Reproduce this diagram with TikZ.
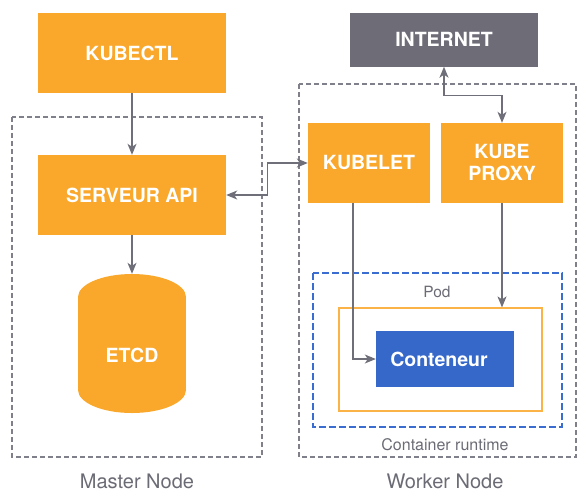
\documentclass[tikz,border=0pt]{standalone}
\usepackage{fontspec}
\setmainfont{TeX Gyre Heros}
\usetikzlibrary{arrows.meta}
\definecolor{kor}{HTML}{F9A82B}
\definecolor{kgray}{HTML}{6E6D77}
\definecolor{karrow}{HTML}{6F6F7A}
\definecolor{kdash}{HTML}{80808A}
\definecolor{kbluedash}{HTML}{3B6DD1}
\definecolor{kblue}{HTML}{3568C9}
\definecolor{kline}{HTML}{FBB347}
\definecolor{klabel}{HTML}{6B6B75}
\tikzset{
  box/.style={fill=kor, draw=none, text=white, font=\fontsize{19.5}{22}\selectfont\bfseries, align=center, inner sep=0pt},
  zone/.style={draw=kdash, line width=1.2pt, dash pattern=on 5pt off 3pt},
  lbl/.style={text=klabel, inner sep=0pt},
  conn/.style={draw=karrow, line width=1.2pt, arrows={-Stealth[length=11pt,width=9pt,inset=3pt]}},
  bconn/.style={draw=karrow, line width=1.2pt, arrows={Stealth[length=11pt,width=9pt,inset=3pt]-Stealth[length=11pt,width=9pt,inset=3pt]}},
}
\begin{document}
\begin{tikzpicture}[x=1pt,y=-1pt]
\useasboundingbox (0,0) rectangle (588,499);
% zones
\draw[zone] (12,117) rectangle (262,457);
\draw[zone] (299,84) rectangle (576,457);
\draw[draw=kbluedash, line width=1.2pt, dash pattern=on 7pt off 3pt] (313,273) rectangle (562,427);
\node[draw=kline, line width=1.2pt, minimum width=203pt, minimum height=103pt, inner sep=0pt] (podbox) at (440.5,359.5) {};
% nodes
\node[box, minimum width=188pt, minimum height=80pt] (kubectl) at (132,53) {KUBECTL};
\node[box, minimum width=188pt, minimum height=80pt] (serveur) at (132,195) {SERVEUR API};
\node[box, fill=kgray, minimum width=188pt, minimum height=54pt] (internet) at (444,39.5) {INTERNET};
\node[box, minimum width=122pt, minimum height=80pt] (kubelet) at (369,163) {KUBELET};
\node[box, minimum width=122pt, minimum height=80pt] (proxy) at (502,163) {KUBE\\PROXY};
\node[box, fill=kblue, minimum width=138pt, minimum height=56pt] (cont) at (445,359) {Conteneur\hspace*{12pt}};
% cylinder
\fill[kor] (78,297) rectangle (186,390);
\fill[kor] (132,297) ellipse[x radius=54pt, y radius=23pt];
\fill[kor] (132,390) ellipse[x radius=54pt, y radius=23pt];
\node[box, fill=none, minimum width=108pt, minimum height=139pt, text height=37pt, text depth=0pt] (etcd) at (132,343.5) {ETCD};
% labels
\node[lbl, font=\fontsize{15.5}{18}\selectfont] (pod) at (437,292) {Pod};
\node[lbl, font=\fontsize{16}{18}\selectfont] (runtime) at (445,445) {Container runtime};
\node[lbl, font=\fontsize{20}{22}\selectfont] (master) at (137,481) {Master Node};
\node[lbl, font=\fontsize{20}{22}\selectfont] (worker) at (445,481) {Worker Node};
% connectors
\draw[conn] (kubectl.south) -- (serveur.north);
\draw[conn] (serveur.south) -- (etcd.north);
\draw[bconn] (serveur.east) -- ++(41,0) |- (kubelet.west);
\draw[bconn] (internet.south) -- ++(0,28.5) -| (proxy.north);
\draw[conn] ([xshift=-16pt]kubelet.south) |- (cont.west);
\draw[conn] (proxy.south) -- (proxy.south |- podbox.north);
\end{tikzpicture}
\end{document}
